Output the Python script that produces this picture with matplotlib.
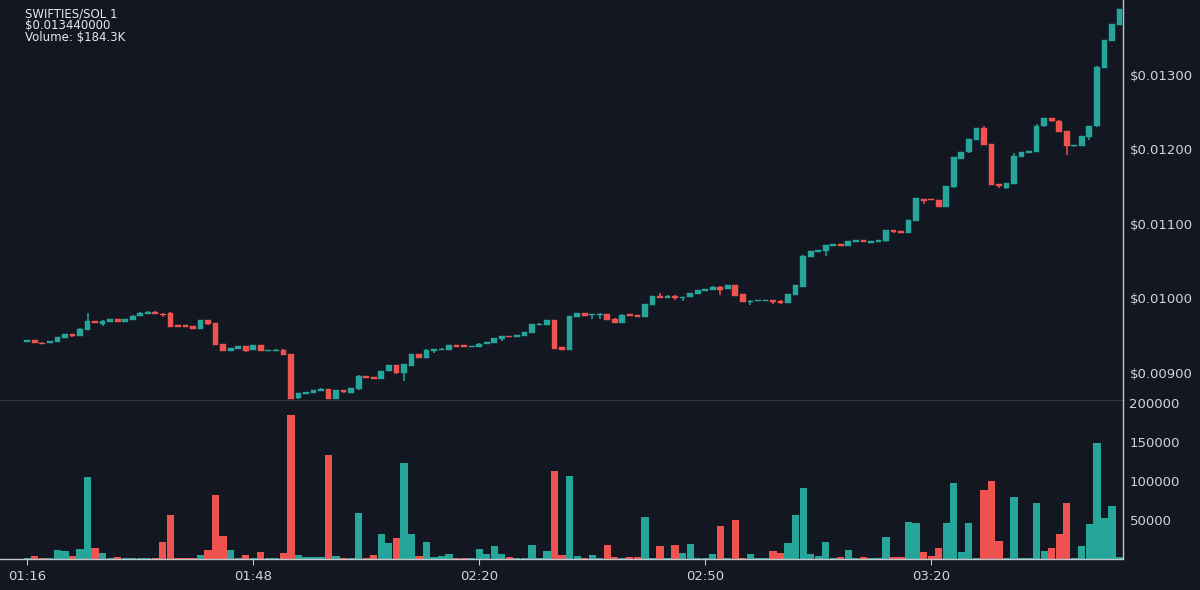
import matplotlib
matplotlib.use("Agg")
import matplotlib.pyplot as plt
import numpy as np

# ---- data (prices in units of 1e-5 SOL) ----
opens = [941.2, 943.4, 940.3, 939.4, 941.0, 946.5, 951.9, 949.7, 957.3, 969.4,
         965.8, 968.5, 971.6, 968.0, 970.3, 975.6, 979.2, 981.9, 979.2, 979.6,
         963.5, 963.5, 962.7, 959.0, 970.7, 966.2, 938.5, 929.1, 931.8, 935.4,
         930.0, 936.7, 928.6, 928.6, 930.9, 925.1, 865.1, 871.4, 872.7, 875.0,
         878.1, 864.0, 876.3, 873.0, 877.2, 895.5, 894.2, 891.5, 901.8, 909.9,
         898.7, 909.4, 925.1, 919.3, 929.5, 930.4, 930.9, 937.2, 936.7, 934.0,
         934.5, 938.0, 939.4, 945.2, 949.2, 947.9, 949.2, 952.8, 964.0, 964.0,
         970.7, 934.0, 930.4, 975.2, 980.1, 976.9, 977.4, 978.7, 972.5, 967.1,
         978.3, 976.9, 974.7, 990.8, 1003.4, 1000.7, 1003.4, 999.8, 1001.1, 1006.0,
         1009.6, 1011.4, 1015.0, 1011.9, 1018.1, 1005.2, 995.3, 995.8, 995.8, 997.6,
         996.7, 993.5, 1003.8, 1015.5, 1055.3, 1062.0, 1062.9, 1070.5, 1073.2, 1070.5,
         1075.4, 1078.1, 1074.5, 1075.4, 1076.3, 1091.1, 1090.6, 1087.9, 1103.6, 1133.2,
         1133.2, 1131.8, 1122.4, 1148.8, 1187.3, 1195.8, 1212.8, 1228.0, 1207.4, 1153.7,
         1147.5, 1153.3, 1189.5, 1195.5, 1196.2, 1230.7, 1241.9, 1238.7, 1224.4, 1203.9,
         1204.7, 1216.4, 1230.7, 1309.9, 1346.1, 1367.6]
closes = [943.4, 940.3, 938.9, 942.5, 947.9, 951.9, 949.7, 959.1, 968.9, 966.2,
          969.8, 971.6, 968.0, 971.6, 976.5, 980.6, 981.9, 979.2, 977.4, 960.9,
          961.3, 961.3, 958.6, 970.7, 964.9, 936.7, 929.1, 933.1, 935.4, 929.5,
          936.7, 928.6, 930.4, 930.9, 924.2, 865.0, 872.7, 873.6, 875.9, 878.5,
          864.0, 876.3, 873.2, 879.4, 896.0, 892.9, 891.5, 902.3, 909.9, 898.7,
          910.8, 925.1, 919.3, 930.9, 931.8, 932.2, 936.7, 934.9, 934.0, 935.8,
          938.9, 941.2, 946.5, 948.8, 947.4, 950.6, 954.1, 964.9, 965.8, 970.7,
          932.2, 930.4, 976.1, 979.6, 976.5, 978.7, 979.2, 970.7, 967.1, 977.9,
          975.6, 974.7, 992.2, 1002.9, 1000.7, 1003.4, 999.8, 1001.6, 1006.5, 1010.5,
          1012.3, 1015.5, 1011.4, 1018.1, 1003.4, 994.9, 996.7, 997.6, 997.6, 994.9,
          993.5, 1005.2, 1017.2, 1057.1, 1063.3, 1064.2, 1071.8, 1073.2, 1070.5, 1076.7,
          1078.1, 1075.0, 1076.7, 1078.1, 1091.1, 1088.4, 1087.9, 1105.4, 1134.0, 1130.9,
          1131.8, 1122.4, 1150.2, 1189.1, 1196.7, 1214.1, 1228.0, 1206.1, 1151.9, 1150.5,
          1155.1, 1190.4, 1196.2, 1197.1, 1232.0, 1241.9, 1237.8, 1223.5, 1203.9, 1206.1,
          1217.7, 1231.6, 1311.2, 1347.0, 1368.5, 1388.2]
highs = [943.6, 943.6, 940.5, 942.8, 948.2, 952.2, 952.1, 959.4, 980.1, 969.6,
         970.0, 971.8, 971.8, 971.8, 976.7, 980.8, 982.1, 982.1, 979.4, 981.4,
         963.7, 963.7, 962.9, 970.9, 970.9, 966.4, 938.7, 933.3, 935.6, 935.6,
         936.9, 936.9, 930.6, 931.1, 931.1, 925.3, 872.9, 873.8, 876.1, 878.7,
         878.3, 876.5, 876.5, 879.6, 896.2, 895.7, 894.4, 902.5, 910.1, 910.1,
         911.0, 925.3, 925.3, 931.1, 932.0, 932.4, 936.9, 937.4, 936.9, 936.0,
         939.1, 941.4, 946.7, 949.0, 949.4, 950.8, 954.3, 965.1, 966.0, 970.9,
         970.9, 934.2, 976.3, 979.8, 980.3, 978.9, 979.4, 978.9, 972.7, 978.1,
         978.5, 977.1, 992.4, 1003.1, 1007.4, 1003.6, 1003.6, 1001.8, 1006.7, 1010.7,
         1012.5, 1015.7, 1016.9, 1018.3, 1018.3, 1005.4, 996.9, 997.8, 997.8, 997.8,
         996.9, 1005.4, 1017.4, 1057.3, 1063.5, 1064.4, 1072.0, 1073.4, 1073.4, 1076.9,
         1078.3, 1078.3, 1076.9, 1078.3, 1091.3, 1091.3, 1090.8, 1105.6, 1134.2, 1133.4,
         1133.4, 1132.0, 1150.4, 1189.3, 1196.9, 1214.3, 1228.2, 1231.6, 1207.6, 1153.9,
         1155.3, 1194.9, 1196.4, 1197.3, 1234.3, 1242.1, 1242.1, 1238.9, 1224.6, 1206.3,
         1217.9, 1231.8, 1311.4, 1347.2, 1368.7, 1388.4]
lows = [940.8, 940.0, 938.6, 939.2, 940.8, 946.3, 947.4, 949.5, 957.1, 966.0,
        962.7, 968.3, 967.8, 967.8, 970.1, 975.4, 979.0, 979.0, 974.7, 960.7,
        961.1, 961.1, 958.4, 958.8, 963.5, 936.5, 928.9, 928.9, 931.6, 927.8,
        929.8, 928.4, 928.4, 928.4, 924.0, 864.6, 864.9, 871.2, 872.5, 874.8,
        863.8, 863.8, 873.0, 872.8, 877.0, 892.7, 891.3, 891.3, 901.6, 898.5,
        888.4, 909.2, 919.1, 919.1, 926.4, 930.2, 930.7, 934.7, 933.8, 933.8,
        934.3, 937.8, 939.2, 943.0, 947.2, 947.7, 949.0, 952.6, 963.8, 963.8,
        932.0, 930.2, 930.2, 975.0, 976.3, 972.5, 972.5, 970.5, 966.9, 966.9,
        975.4, 974.5, 974.5, 990.6, 1000.5, 1000.5, 998.0, 995.8, 1000.9, 1005.8,
        1009.4, 1011.2, 1004.7, 1011.7, 1003.2, 994.7, 990.8, 995.6, 995.6, 992.2,
        991.7, 993.3, 1003.6, 1015.3, 1055.1, 1061.8, 1057.1, 1070.3, 1070.3, 1070.3,
        1075.2, 1074.8, 1074.3, 1075.2, 1076.1, 1088.2, 1087.7, 1087.7, 1103.4, 1126.9,
        1131.6, 1122.2, 1122.2, 1148.6, 1187.1, 1195.6, 1212.6, 1205.9, 1151.7, 1147.9,
        1147.3, 1153.1, 1189.3, 1195.3, 1196.0, 1230.5, 1236.1, 1223.3, 1191.8, 1203.7,
        1204.5, 1212.8, 1230.5, 1309.7, 1345.9, 1367.4]
volumes = [800, 2600, 1000, 600, 11200, 9000, 2600, 12000, 104800, 13300,
           7300, 600, 1500, 600, 600, 600, 600, 800, 21000, 55400,
           800, 600, 600, 3900, 11200, 81600, 28300, 11200, 600, 3900,
           800, 7700, 600, 600, 6900, 184300, 4300, 1500, 1500, 1500,
           132700, 3400, 1000, 800, 58400, 1000, 3900, 31800, 20200, 26700,
           122000, 31800, 2600, 20600, 1500, 3000, 5200, 800, 800, 600,
           12500, 5200, 15900, 6000, 1500, 800, 800, 17200, 800, 9900,
           111700, 4700, 106100, 3000, 800, 4700, 800, 16800, 1500, 800,
           1500, 1500, 53700, 800, 16300, 800, 17600, 6900, 18000, 800,
           800, 6400, 41200, 800, 49000, 800, 5200, 600, 600, 9000,
           7300, 19800, 56300, 90600, 5600, 3400, 20600, 600, 1500, 11200,
           600, 1500, 600, 600, 27100, 1500, 1500, 46800, 45800, 8100,
           3400, 13300, 45100, 97500, 8100, 45100, 1000, 88500, 99200, 22800,
           800, 79500, 800, 800, 71300, 9400, 13300, 31800, 71300, 800,
           15900, 44700, 148600, 51900, 67900, 2000]
tick_positions = [0, 30, 60, 90, 120]
tick_labels = ["01:16", "01:48", "02:20", "02:50", "03:20"]
price_ticks = [0.00900, 0.01000, 0.01100, 0.01200, 0.01300]
volume_ticks = [50000, 100000, 150000, 200000]
header_lines = ["SWIFTIES/SOL 1", "$0.013440000", "Volume: $184.3K"]

# ---- style ----
BG = "#131722"
UP = "#26a69a"
DOWN = "#ef5350"
LINE = "#c3c5cc"
TXT = "#d1d4dc"

o = np.array(opens) * 1e-5
c = np.array(closes) * 1e-5
h = np.array(highs) * 1e-5
l = np.array(lows) * 1e-5
v = np.array(volumes, dtype=float)
x = np.arange(len(o))
colors = [UP if cc >= oo else DOWN for oo, cc in zip(o, c)]

fig = plt.figure(figsize=(12, 5.9), dpi=100, facecolor=BG)
W, H = 1200.0, 590.0
right = 1122.5 / W
sep = 1 - 400.5 / H
vbot = 1 - 558.5 / H
ax = fig.add_axes([0, sep, right, 1 - sep])
axv = fig.add_axes([0, vbot, right, sep - vbot], sharex=ax)

for a in (ax, axv):
    a.set_facecolor(BG)
    a.spines["top"].set_visible(False)
    a.spines["left"].set_visible(False)
    a.spines["right"].set_color(LINE)
    a.spines["bottom"].set_color(LINE)
    a.spines["right"].set_linewidth(1)
    a.spines["bottom"].set_linewidth(1)
    a.yaxis.tick_right()
    a.tick_params(axis="y", length=0, pad=5, labelcolor=TXT, labelsize=9.5)

# candles
ax.vlines(x, l, h, colors=colors, linewidth=1.1, zorder=2)
ax.bar(x, np.maximum(np.abs(c - o), 1e-7), bottom=np.minimum(o, c), width=0.76,
       color=colors, edgecolor=colors, linewidth=0.3, zorder=3)
ax.set_ylim(0.008624, 0.014007)
ax.set_xlim(-3.62, 145.4)
ax.set_yticks(price_ticks)
ax.set_yticklabels([f"${p:.5f}" for p in price_ticks])
ax.tick_params(axis="x", bottom=False, labelbottom=False)

# volume
axv.bar(x, v, width=0.96, color=colors, linewidth=0, zorder=2)
axv.set_ylim(0, 202730)
axv.set_yticks(volume_ticks)
axv.set_yticklabels([str(t) for t in volume_ticks])
axv.set_xticks(tick_positions)
axv.set_xticklabels(tick_labels)
axv.tick_params(axis="x", length=4, color=LINE, labelcolor=TXT, labelsize=9.5, pad=4)

# header
for i, line in enumerate(header_lines):
    fig.text(25 / W, 1 - (17.3 + 11.7 * i) / H, line, color="#e8e8e8",
             fontsize=8.5, va="baseline", ha="left")

fig.savefig("out.png", dpi=100, facecolor=BG)
